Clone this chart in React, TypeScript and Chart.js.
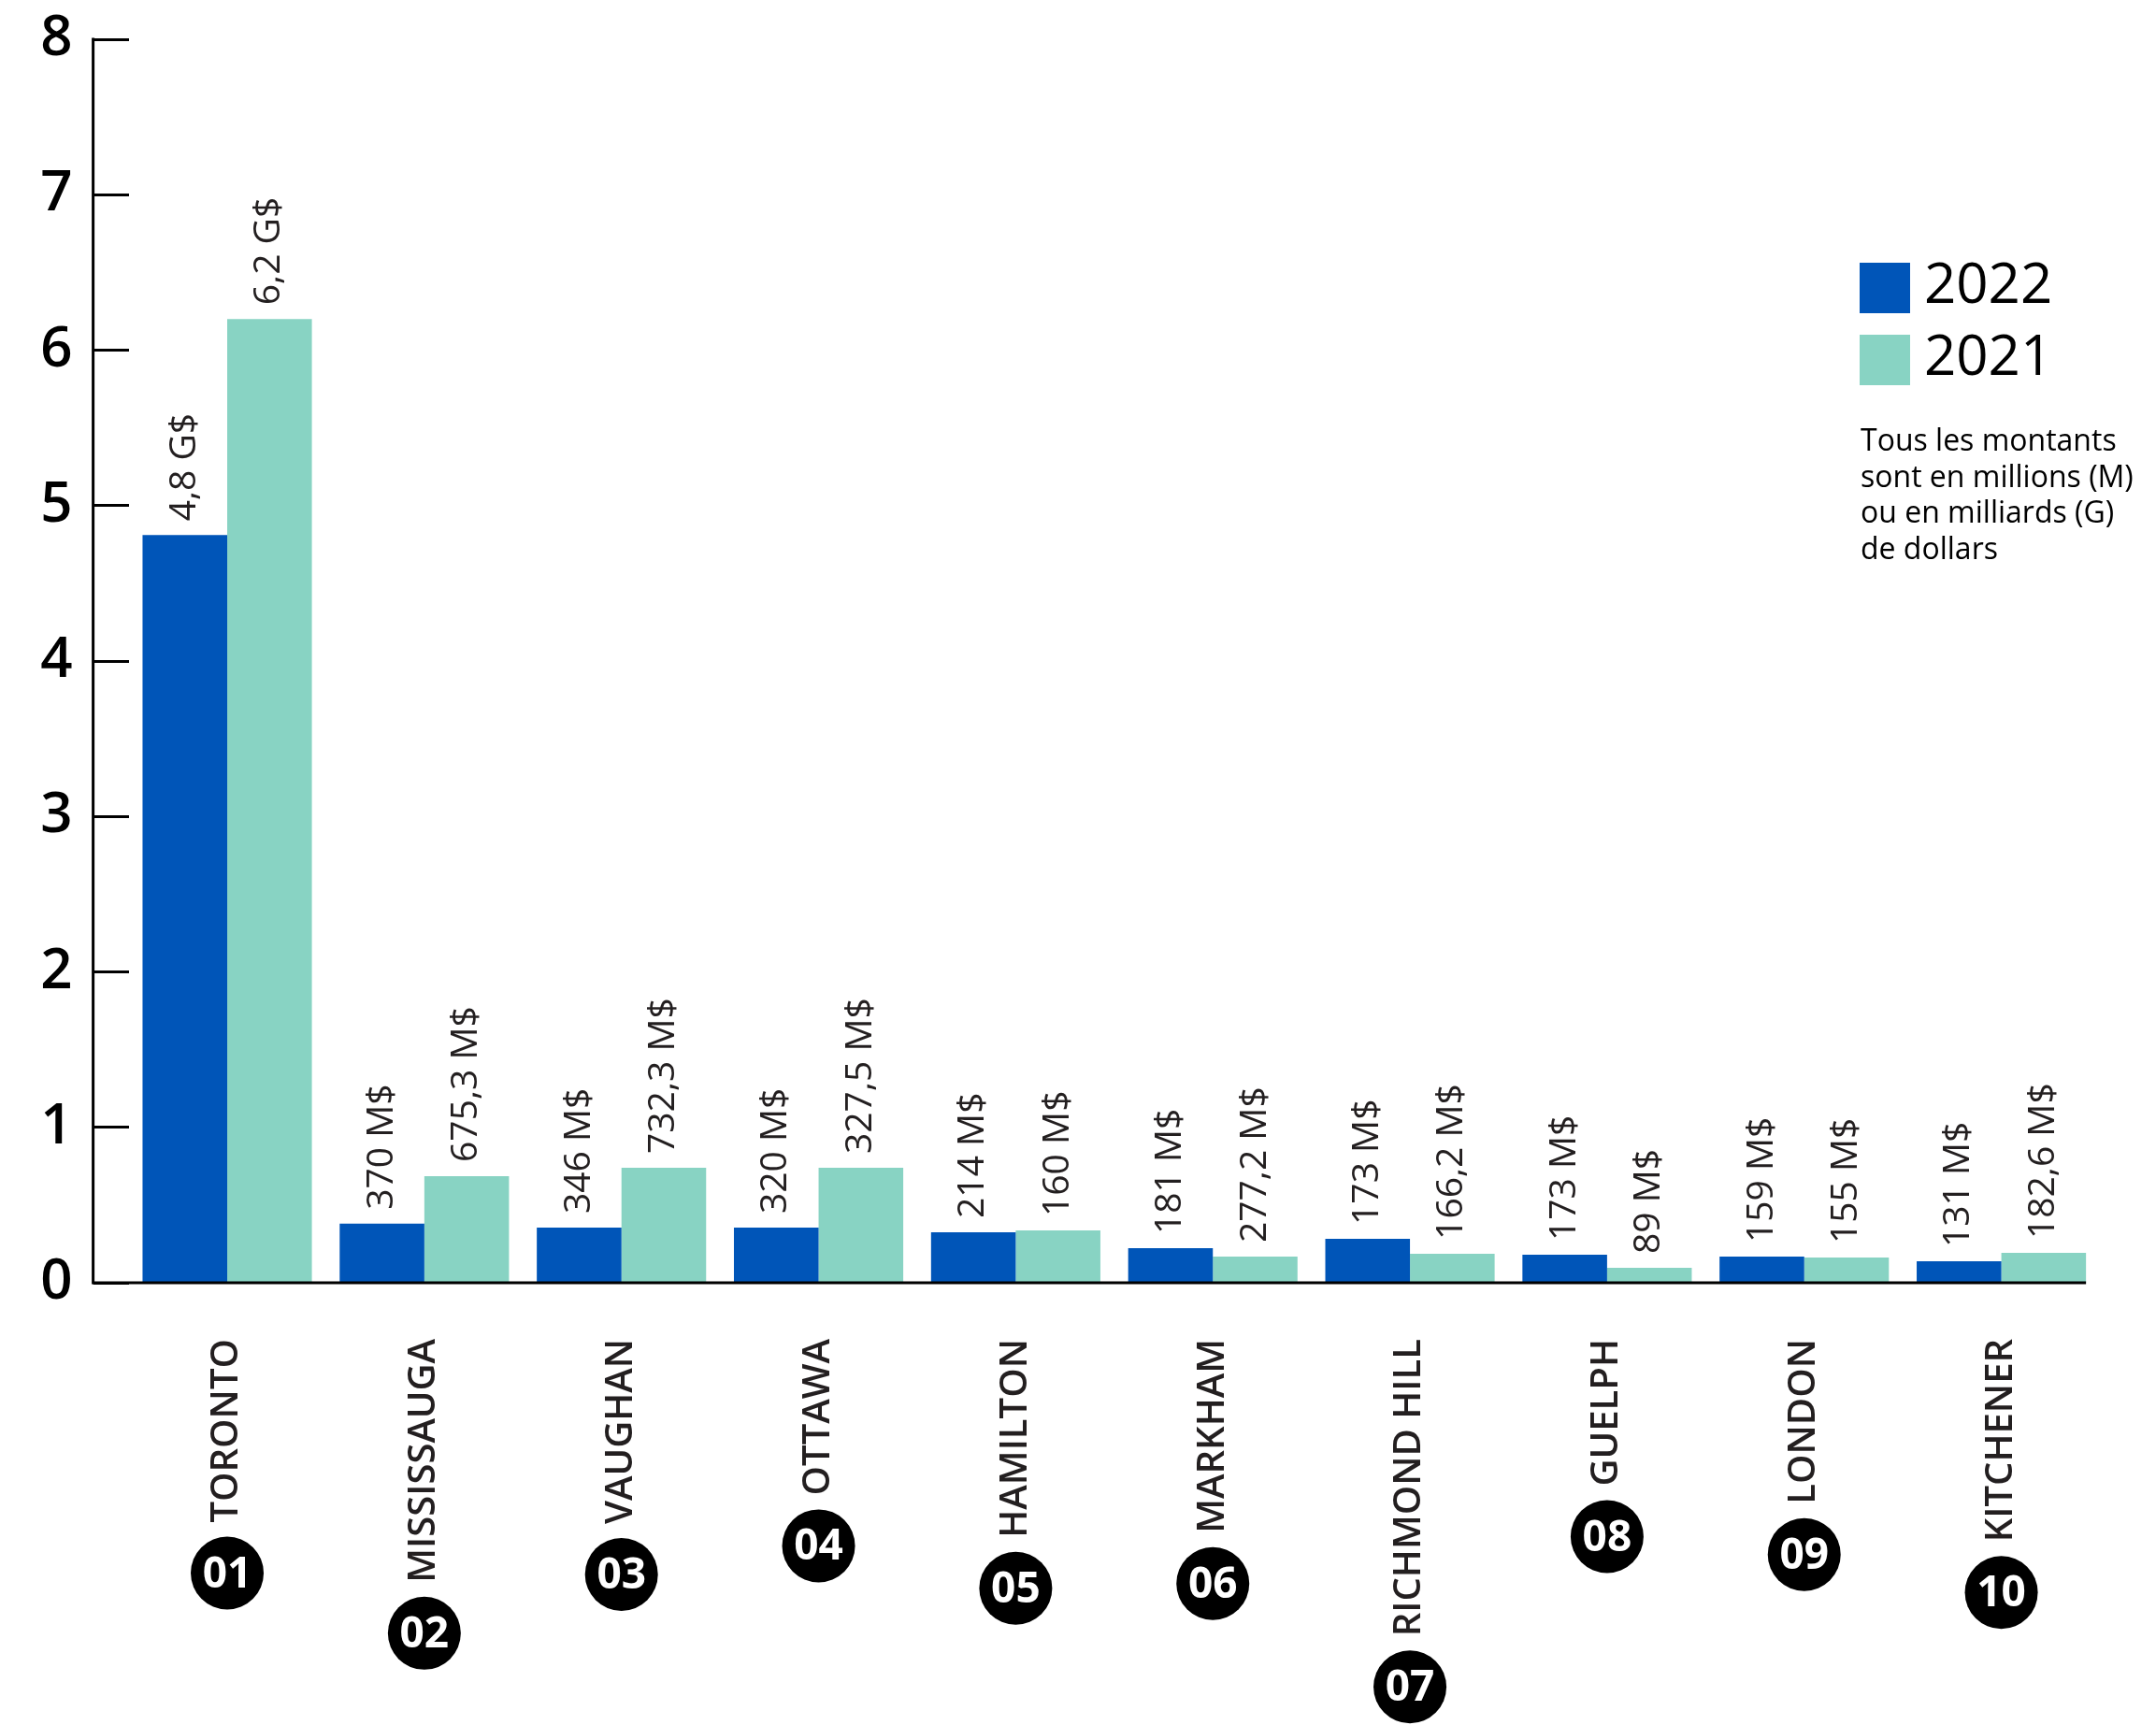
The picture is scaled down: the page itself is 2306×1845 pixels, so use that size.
import React, { useEffect, useRef } from "react";
import { Chart, registerables } from "chart.js";

Chart.register(...registerables);

// ---------- data ----------
const categories = [
  "TORONTO",
  "MISSISSAUGA",
  "VAUGHAN",
  "OTTAWA",
  "HAMILTON",
  "MARKHAM",
  "RICHMOND HILL",
  "GUELPH",
  "LONDON",
  "KITCHENER",
];
const ranks = ["01", "02", "03", "04", "05", "06", "07", "08", "09", "10"];
const seriesNames = ["2022", "2021"];
// bar heights in billions of dollars, as drawn
const values2022 = [4.81, 0.38, 0.355, 0.355, 0.325, 0.222, 0.283, 0.18, 0.168, 0.138];
const values2021 = [6.2, 0.686, 0.74, 0.74, 0.337, 0.168, 0.187, 0.096, 0.162, 0.192];
const labels2022 = ["4,8 G$", "370 M$", "346 M$", "320 M$", "214 M$", "181 M$", "173 M$", "173 M$", "159 M$", "131 M$"];
const labels2021 = ["6,2 G$", "675,3 M$", "732,3 M$", "327,5 M$", "160 M$", "277,2 M$", "166,2 M$", "89 M$", "155 M$", "182,6 M$"];
const yMin = 0;
const yMax = 8;
const yStep = 1;
const noteLines = ["Tous les montants", "sont en millions (M)", "ou en milliards (G)", "de dollars"];

const COLOR_2022 = "#0055b8";
const COLOR_2021 = "#88d3c3";
const TEXT = "#231f20";
const FONT = "'Open Sans', 'Noto Sans', sans-serif";

const W = 2306;
const H = 1845;
const TICK_LEN = 38;
const LABEL_PAD = 60;

const overlayPlugin = {
  id: "overlay",
  afterDatasetsDraw(chart: any) {
    const ctx = chart.ctx;
    const xs = chart.scales.x;
    const ys = chart.scales.y;
    ctx.save();

    // value labels above bars
    ctx.font = `500 39px ${FONT}`;
    ctx.fillStyle = TEXT;
    ctx.textAlign = "left";
    ctx.textBaseline = "middle";
    [labels2022, labels2021].forEach((labs, di) => {
      const meta = chart.getDatasetMeta(di);
      meta.data.forEach((el: any, i: number) => {
        ctx.save();
        ctx.translate(el.x, el.y - 15);
        ctx.rotate(-Math.PI / 2);
        ctx.fillText(labs[i], 0, 0);
        ctx.restore();
      });
    });

    // axes lines
    const axisX = chart.chartArea.left - TICK_LEN;
    const y0 = ys.getPixelForValue(yMin);
    const yTop = ys.getPixelForValue(yMax);
    const lastMeta = chart.getDatasetMeta(1);
    const lastEl: any = lastMeta.data[lastMeta.data.length - 1];
    const xEnd = lastEl.x + lastEl.width / 2;
    ctx.strokeStyle = "#000";
    ctx.lineWidth = 3;
    ctx.beginPath();
    ctx.moveTo(axisX, yTop - 1.5);
    ctx.lineTo(axisX, y0);
    ctx.lineTo(xEnd, y0);
    ctx.stroke();

    // rank badges under the category labels
    categories.forEach((c, i) => {
      ctx.font = `600 40px ${FONT}`;
      const w = ctx.measureText(c).width;
      const cx = xs.getPixelForValue(i);
      const cy = xs.top + LABEL_PAD + w + 15 + 39;
      ctx.fillStyle = "#000";
      ctx.beginPath();
      ctx.arc(cx, cy, 39, 0, Math.PI * 2);
      ctx.fill();
      ctx.fillStyle = "#fff";
      ctx.font = `700 46px ${FONT}`;
      ctx.textAlign = "center";
      ctx.textBaseline = "middle";
      ctx.fillText(ranks[i], cx, cy + 2);
    });

    // legend
    const legendColors = [COLOR_2022, COLOR_2021];
    const legendTops = [281, 358];
    seriesNames.forEach((name, i) => {
      ctx.fillStyle = legendColors[i];
      ctx.fillRect(1989, legendTops[i], 54, 54);
      ctx.fillStyle = "#000";
      ctx.font = `400 60px ${FONT}`;
      ctx.textAlign = "left";
      ctx.textBaseline = "middle";
      ctx.fillText(name, 2058, legendTops[i] + 26);
    });

    // note
    ctx.font = `400 32px ${FONT}`;
    ctx.fillStyle = "#000";
    ctx.textAlign = "left";
    ctx.textBaseline = "alphabetic";
    noteLines.forEach((line, i) => {
      ctx.fillText(line, 1990, 482 + i * 38.5);
    });

    ctx.restore();
  },
};

export default function App() {
  const canvasRef = useRef<HTMLCanvasElement | null>(null);

  useEffect(() => {
    const canvas = canvasRef.current;
    if (!canvas) return;
    const chart = new Chart(canvas, {
      type: "bar",
      data: {
        labels: categories,
        datasets: [
          {
            label: seriesNames[0],
            data: values2022,
            backgroundColor: COLOR_2022,
            borderWidth: 0,
            categoryPercentage: 0.859,
            barPercentage: 1,
          },
          {
            label: seriesNames[1],
            data: values2021,
            backgroundColor: COLOR_2021,
            borderWidth: 0,
            categoryPercentage: 0.859,
            barPercentage: 1,
          },
        ],
      },
      options: {
        responsive: false,
        animation: false,
        devicePixelRatio: 1,
        layout: { padding: { top: 42, right: 60, left: 0, bottom: 0 } },
        plugins: {
          legend: { display: false },
          tooltip: { enabled: false },
        },
        scales: {
          x: {
            type: "category",
            offset: true,
            grid: { display: false, drawTicks: false },
            border: { display: false },
            ticks: {
              autoSkip: false,
              minRotation: 90,
              maxRotation: 90,
              padding: LABEL_PAD,
              color: TEXT,
              font: { family: FONT, size: 40, weight: "600" },
            },
            afterFit: (scale: any) => {
              scale.height = H - 1372;
              scale.paddingLeft = 0;
              scale.paddingRight = 0;
            },
          },
          y: {
            min: yMin,
            max: yMax,
            border: { display: false },
            grid: {
              drawOnChartArea: false,
              drawTicks: true,
              tickLength: TICK_LEN,
              tickWidth: 3,
              tickColor: "#000",
            },
            ticks: {
              stepSize: yStep,
              padding: 22,
              color: "#000",
              font: { family: FONT, size: 60, weight: "600" },
            },
            afterFit: (scale: any) => {
              scale.width = 137.6;
              scale.paddingTop = 0;
              scale.paddingBottom = 0;
            },
          },
        },
      },
      plugins: [overlayPlugin],
    });
    return () => chart.destroy();
  }, []);

  return (
    <div style={{ position: "fixed", left: 0, top: 0, width: W, height: H, background: "#fff" }}>
      <canvas ref={canvasRef} width={W} height={H} style={{ display: "block" }} />
    </div>
  );
}
